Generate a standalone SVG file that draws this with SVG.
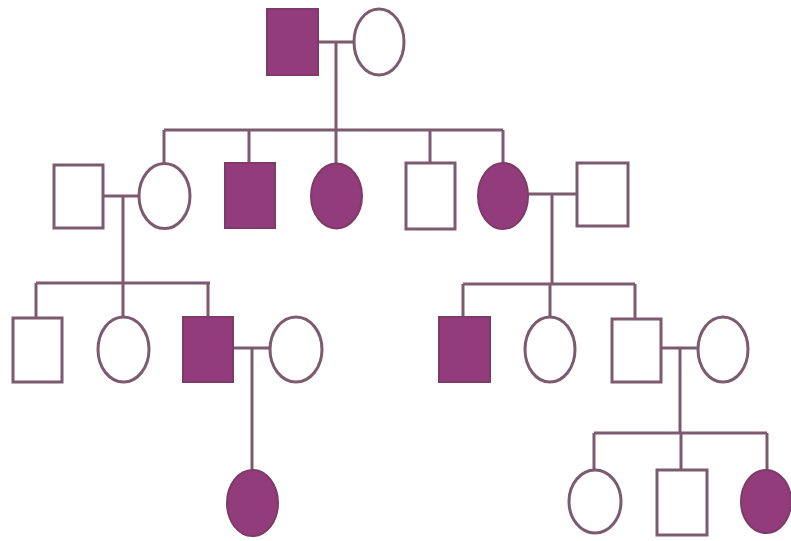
<svg xmlns="http://www.w3.org/2000/svg" width="791" height="541" viewBox="0 0 791 541">
<style>
.m{fill:#ffffff;stroke:#7c5a70;stroke-width:3}
.a{fill:#933c7c;stroke:#7e3a68;stroke-width:2}
.l{fill:none;stroke:#7c5a70;stroke-width:3}
</style>
<rect width="791" height="541" fill="#ffffff"/>
<g id="connectors">
<path class="l" d="M318 42H354 M336 42V130 M164 130H503 M164 130V163 M249 130V163 M336 130V163 M430 130V163 M503 130V163"/>
<path class="l" d="M103 196H139 M123 196V283 M36 283H210 M36 283V318 M123 283V317 M208 283V317"/>
<path class="l" d="M528 194H577 M552 194V284 M463 284H635 M463 284V317 M550 284V317 M635 284V319"/>
<path class="l" d="M233 348H270 M252 348V470"/>
<path class="l" d="M661 348H698 M680 348V433 M594 433H767 M594 433V470 M681 433V470 M767 433V470"/>
</g>
<g id="g1m"><rect class="a" x="267" y="9" width="51" height="66"/></g>
<g id="g1f"><ellipse class="m" cx="379" cy="42" rx="25" ry="33"/></g>
<g id="g2a"><rect class="m" x="54" y="165" width="49" height="63"/></g>
<g id="g2b"><ellipse class="m" cx="164.5" cy="196" rx="25.5" ry="32.5"/></g>
<g id="g2c"><rect class="a" x="225" y="163" width="50" height="65"/></g>
<g id="g2d"><ellipse class="a" cx="336.5" cy="196" rx="25.5" ry="32.5"/></g>
<g id="g2e"><rect class="m" x="406" y="163" width="49" height="66"/></g>
<g id="g2f"><ellipse class="a" cx="503" cy="196" rx="25" ry="33"/></g>
<g id="g2g"><rect class="m" x="577" y="163" width="51" height="63"/></g>
<g id="g3a"><rect class="m" x="13" y="318" width="49" height="64"/></g>
<g id="g3b"><ellipse class="m" cx="123.5" cy="349.5" rx="25.5" ry="32.5"/></g>
<g id="g3c"><rect class="a" x="183" y="317" width="50" height="65"/></g>
<g id="g3d"><ellipse class="m" cx="296" cy="349.5" rx="26" ry="32.5"/></g>
<g id="g3e"><rect class="a" x="439" y="317" width="51" height="65"/></g>
<g id="g3f"><ellipse class="m" cx="550" cy="349.5" rx="25" ry="32.5"/></g>
<g id="g3g"><rect class="m" x="612" y="319" width="49" height="63"/></g>
<g id="g3h"><ellipse class="m" cx="723" cy="349.5" rx="25" ry="32.5"/></g>
<g id="g4a"><ellipse class="a" cx="252.5" cy="503" rx="25.5" ry="33"/></g>
<g id="g4b"><ellipse class="m" cx="595" cy="501.5" rx="26" ry="31.5"/></g>
<g id="g4c"><rect class="m" x="657" y="470" width="50" height="65"/></g>
<g id="g4d"><ellipse class="a" cx="766" cy="501.5" rx="25" ry="31.5"/></g>
</svg>
